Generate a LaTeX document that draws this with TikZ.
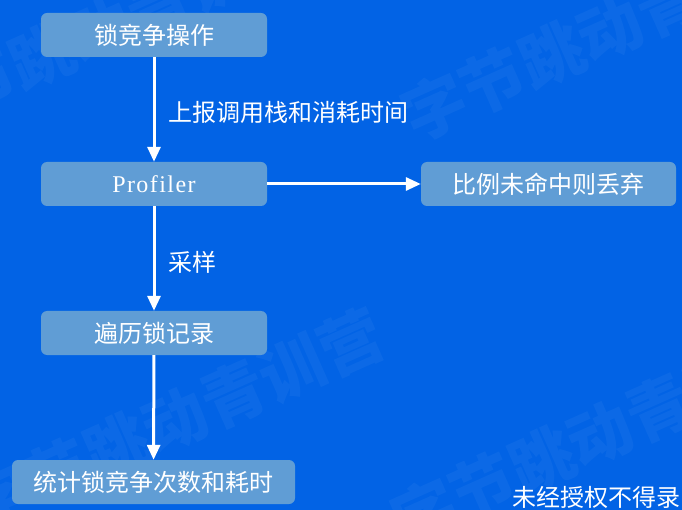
\documentclass[tikz,border=0pt]{standalone}
\usepackage{fontspec}
\newfontfamily\cjk{Noto Sans CJK SC}
\newfontfamily\serifP[LetterSpace=6]{Liberation Serif}
\usetikzlibrary{arrows.meta}
\definecolor{bg}{RGB}{2,99,229}
\definecolor{boxc}{RGB}{96,157,213}
\begin{document}
\begin{tikzpicture}[x=1pt,y=-1pt,
  box/.style={fill=boxc, rounded corners=6pt, text=white, inner sep=0pt,
    minimum height=44pt, font=\cjk\fontsize{24}{26}\selectfont},
  flow/.style={draw=white, line width=3pt, -{Triangle[length=15pt,width=13pt]}},
  lbl/.style={text=white, anchor=west, inner sep=0pt, font=\cjk\fontsize{24}{26}\selectfont},
  wm/.style={text=white, opacity=0.045, inner sep=0pt, font=\cjk\bfseries\fontsize{64}{64}\selectfont, rotate=24}]
\useasboundingbox (0,0) rectangle (682,510);
\fill[bg] (0,0) rectangle (682,510);
\begin{scope}
\clip (0,0) rectangle (682,510);
\node[wm] (w1) at (100,30) {字节跳动青训营};
\node[wm, anchor=west] (w2) at (405,120) {字节跳动青训营};
\node[wm] (w3) at (175,420) {字节跳动青训营};
\node[wm, anchor=west] (w4) at (395,525) {字节跳动青训营};
\node[lbl] (cr) at (512,497) {未经授权不得录};
\end{scope}
\node[box, minimum width=226pt] (n1) at (154,35) {锁竞争操作};
\node[box, minimum width=226pt, font=\serifP\fontsize{24}{26}\selectfont] (n2) at (154,184) {Profiler};
\node[box, minimum width=255pt] (n3) at (548.5,184) {比例未命中则丢弃};
\node[box, minimum width=226pt] (n4) at (154,333) {遍历锁记录};
\node[box, minimum width=283pt] (n5) at (153.5,482) {统计锁竞争次数和耗时};
\draw[flow] (n1) -- (n2);
\draw[flow] (n2) -- (n3);
\draw[flow] (n2) -- (n4);
\draw[flow] (n4) -- (n5);
\node[lbl] (l1) at (168,112) {上报调用栈和消耗时间};
\node[lbl] (l2) at (168,262) {采样};
\end{tikzpicture}
\end{document}
